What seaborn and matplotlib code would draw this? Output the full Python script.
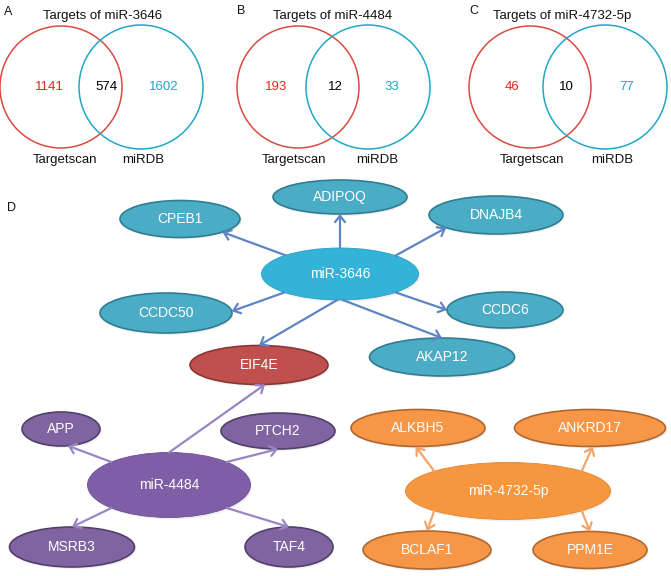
import numpy as np
import matplotlib
matplotlib.use("Agg")
import matplotlib.pyplot as plt
from matplotlib.patches import Ellipse, Circle, FancyArrowPatch
import seaborn as sns

# ---------------- data ----------------
panel_labels = ["A", "B", "C"]
venn_titles = ["Targets of miR-3646", "Targets of miR-4484", "Targets of miR-4732-5p"]
set_names = ["Targetscan", "miRDB"]
targetscan_only = [1141, 193, 46]
overlap = [574, 12, 10]
mirdb_only = [1602, 33, 77]

hubs = ["miR-3646", "miR-4484", "miR-4732-5p"]
targets_3646 = ["CPEB1", "ADIPOQ", "DNAJB4", "CCDC50", "CCDC6", "EIF4E", "AKAP12"]
targets_4484 = ["APP", "PTCH2", "MSRB3", "TAF4", "EIF4E"]
targets_4732 = ["ALKBH5", "ANKRD17", "BCLAF1", "PPM1E"]
shared_targets = ["EIF4E"]

# ---------------- layout (pixel space) ----------------
W, H = 671, 576
venn_red_c = [(61, 87), (298, 87), (530, 87)]
venn_blue_c = [(141, 87), (368, 87), (605, 87)]
venn_r = [61, 61, 61]
venn_num_x = [(49, 106, 164), (276, 335, 392), (512, 566, 627)]
venn_lab_x = [(65, 143), (294, 377), (532, 612)]
venn_title_x = [103, 333, 562]
panel_xy = [(8, 12), (241, 11), (474, 11), (11, 208)]

node_geom = {
    "miR-3646": (340, 274, 157, 52),
    "CPEB1": (180, 219, 120, 37),
    "ADIPOQ": (340, 197, 134, 34),
    "DNAJB4": (496, 215, 134, 38),
    "CCDC50": (166, 313, 132, 40),
    "CCDC6": (505, 310, 116, 36),
    "EIF4E": (259, 365, 138, 39),
    "AKAP12": (442, 357, 145, 38),
    "miR-4484": (169, 485, 163, 65),
    "APP": (61, 429, 78, 34),
    "PTCH2": (278, 431, 114, 36),
    "MSRB3": (72, 547, 125, 40),
    "TAF4": (289, 547, 88, 40),
    "miR-4732-5p": (508, 491, 205, 57),
    "ALKBH5": (418, 428, 134, 37),
    "ANKRD17": (590, 428, 151, 37),
    "BCLAF1": (427, 550, 128, 38),
    "PPM1E": (590, 550, 114, 37),
}
ports = {
    ("miR-3646", "CPEB1"): (134, 315),
    ("miR-3646", "ADIPOQ"): (90, 270),
    ("miR-3646", "DNAJB4"): (45, 222),
    ("miR-3646", "CCDC50"): (225, 5),
    ("miR-3646", "CCDC6"): (315, 180),
    ("miR-3646", "EIF4E"): (268, 90),
    ("miR-3646", "AKAP12"): (272, 90),
    ("miR-4484", "APP"): (135, 280),
    ("miR-4484", "PTCH2"): (45, 270),
    ("miR-4484", "MSRB3"): (225, 90),
    ("miR-4484", "TAF4"): (315, 90),
    ("miR-4484", "EIF4E"): (90, 275),
    ("miR-4732-5p", "ALKBH5"): (136, 268),
    ("miR-4732-5p", "ANKRD17"): (44, 272),
    ("miR-4732-5p", "BCLAF1"): (224, 90),
    ("miR-4732-5p", "PPM1E"): (316, 90),
}

# ---------------- style ----------------
sns.set_theme(style="white")
plt.rcParams["font.family"] = ["Liberation Sans", "DejaVu Sans"]

venn_red, venn_blue = sns.color_palette(["#DA4A40", "#22A6C9"])
num_red, num_blue = "#E8241C", "#1DA6CB"
group_style = {
    "miR-3646": dict(hub="#33B3D7", hub_edge="#2D9FC0", fill="#4BACC6", edge="#2F7D93", arrow="#5E84C4"),
    "miR-4484": dict(hub="#7F5EA8", hub_edge="#6C4F91", fill="#8064A2", edge="#51406A", arrow="#9A84C2"),
    "miR-4732-5p": dict(hub="#F6973F", hub_edge="#E08833", fill="#F79646", edge="#B0672E", arrow="#F2A56B"),
}
shared_style = dict(fill="#C0504D", edge="#8A3634")

fig = plt.figure(figsize=(W / 100, H / 100), dpi=100)
ax = fig.add_axes([0, 0, 1, 1])
ax.set_xlim(0, W)
ax.set_ylim(H, 0)
ax.axis("off")

# ---------------- Venn diagrams ----------------
for i in range(3):
    ax.add_patch(Circle(venn_red_c[i], venn_r[i], fill=False, ec=venn_red, lw=1.1))
    ax.add_patch(Circle(venn_blue_c[i], venn_r[i] + 1, fill=False, ec=venn_blue, lw=1.1))
    y = venn_red_c[i][1]
    nx = venn_num_x[i]
    ax.text(nx[0], y, str(targetscan_only[i]), color=num_red, fontsize=9.5, ha="center", va="center")
    ax.text(nx[1], y, str(overlap[i]), color="black", fontsize=9.5, ha="center", va="center")
    ax.text(nx[2], y, str(mirdb_only[i]), color=num_blue, fontsize=9.5, ha="center", va="center")
    ax.text(venn_title_x[i], 16, venn_titles[i], fontsize=9.5, ha="center", va="center", color="#111111")
    ax.text(venn_lab_x[i][0], 160, set_names[0], fontsize=9.5, ha="center", va="center", color="#111111")
    ax.text(venn_lab_x[i][1], 160, set_names[1], fontsize=9.5, ha="center", va="center", color="#111111")
    ax.text(*panel_xy[i], panel_labels[i], fontsize=9, ha="center", va="center", color="#111111")
ax.text(*panel_xy[3], "D", fontsize=9, ha="center", va="center", color="#111111")

# ---------------- network ----------------
def port(name, ang):
    cx, cy, w, h = node_geom[name]
    t = np.deg2rad(ang)
    return cx + w / 2 * np.cos(t), cy - h / 2 * np.sin(t)

def draw_node(name, fc, ec, lw=1.0):
    cx, cy, w, h = node_geom[name]
    ax.add_patch(Ellipse((cx + 1.5, cy + 2), w, h, fc="#000000", ec="none", alpha=0.06, zorder=1))
    ax.add_patch(Ellipse((cx, cy), w, h, fc=fc, ec=ec, lw=lw, zorder=2))
    ax.text(cx, cy, name, color="white", fontsize=10, ha="center", va="center", zorder=3)

groups = [("miR-3646", targets_3646), ("miR-4484", targets_4484), ("miR-4732-5p", targets_4732)]
drawn = set()
for hub, tlist in groups:
    st = group_style[hub]
    draw_node(hub, st["hub"], st["hub_edge"], lw=0.6)
    for t in tlist:
        if t in drawn:
            continue
        if t in shared_targets:
            draw_node(t, shared_style["fill"], shared_style["edge"], lw=1.2)
        else:
            draw_node(t, st["fill"], st["edge"], lw=1.2)
        drawn.add(t)

for hub, tlist in groups:
    st = group_style[hub]
    for t in tlist:
        a_src, a_tgt = ports[(hub, t)]
        p0 = port(hub, a_src)
        p1 = port(t, a_tgt)
        arr = FancyArrowPatch(p0, p1, arrowstyle="->,head_length=0.38,head_width=0.3",
                              mutation_scale=12, color=st["arrow"], lw=1.6,
                              shrinkA=0, shrinkB=0, zorder=4, capstyle="round")
        ax.add_patch(arr)

fig.savefig("out.png", dpi=100)
